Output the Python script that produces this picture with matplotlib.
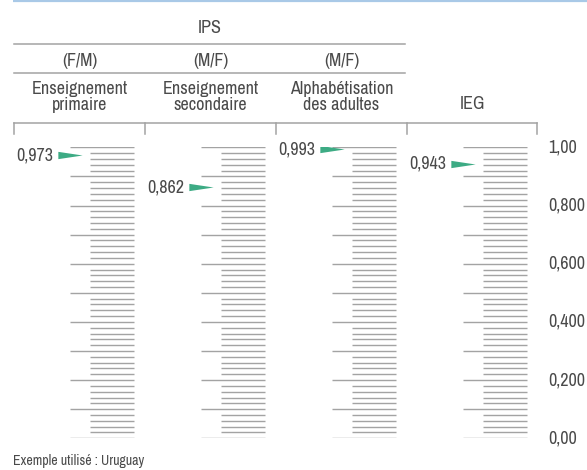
import numpy as np
import matplotlib.pyplot as plt
from matplotlib.path import Path

# data
groups = ['(F/M)', '(M/F)', '(M/F)']
columns = ['Enseignement\nprimaire', 'Enseignement\nsecondaire',
           'Alphabétisation\ndes adultes', 'IEG']
values = [0.973, 0.862, 0.993, 0.943]
scale_labels = ['1,00', '0,800', '0,600', '0,400', '0,200', '0,00']
scale_values = [1.0, 0.8, 0.6, 0.4, 0.2, 0.0]
note = 'Exemple utilisé : Uruguay'

W, H = 587, 470
TEXT = '#4a4a4a'
GREY = '#a3a3a3'
GREEN = '#3dab84'
FS = 13
plt.rcParams['font.family'] = ['Archivo Narrow', 'DejaVu Sans']

fig = plt.figure(figsize=(W/100, H/100), dpi=100)

# background axes in pixel units for the header
bg = fig.add_axes([0, 0, 1, 1])
bg.set_xlim(0, W)
bg.set_ylim(H, 0)
bg.axis('off')

bg.plot([13, W], [0.8, 0.8], color='#a9c9e7', lw=1.6, solid_capstyle='butt')
bg.text(210, 28, 'IPS', ha='center', va='center', fontsize=FS, color=TEXT)
bg.plot([14, 405], [44, 44], color=GREY, lw=1.1)
bg.plot([14, 405], [73, 73], color=GREY, lw=1.1)

col_left = [14 + 131*i for i in range(4)]
for i, g in enumerate(groups):
    bg.text(col_left[i] + 65.5, 61, g, ha='center', va='center',
            fontsize=FS, color=TEXT)
for i, c in enumerate(columns):
    y = 97 if '\n' in c else 104
    bg.text(col_left[i] + 65.5, y, c, ha='center', va='center', fontsize=FS,
            color=TEXT, linespacing=0.95)

# bracket
bg.plot([14, 537], [123, 123], color=GREY, lw=1.1)
for x in col_left + [537]:
    bg.plot([x, x], [123, 134], color=GREY, lw=1.1)

bg.text(13, 461, note, ha='left', va='center', fontsize=10, color=TEXT)

# scale axes: value 1 at y=147.3 px, value 0 at y=438.3 px
top, bot = 147.3, 438.3
ax = fig.add_axes([0, (H - bot)/H, 1, (bot - top)/H])
ax.set_xlim(0, W)
ax.set_ylim(0, 1)
ax.axis('off')

major = np.linspace(0, 1, 11)
fine = np.linspace(0, 1, 51)
minor = np.array([v for v in fine if not np.isclose(v*10, round(v*10))])

tri = Path([(-1, -0.3), (1, 0), (-1, 0.3), (-1, -0.3)],
           [Path.MOVETO, Path.LINETO, Path.LINETO, Path.CLOSEPOLY])

for i, v in enumerate(values):
    right = 134 + 131*i
    ax.hlines(major, right - 64, right, color=GREY, lw=1.0)
    ax.hlines(minor, right - 44, right, color=GREY, lw=1.0)
    tip = right - 52
    ax.plot([tip - 12], [v], marker=tri, ms=17.5, color=GREEN,
            markeredgewidth=0, linestyle='')
    ax.text(tip - 29, v, f'{v:.3f}'.replace('.', ','), ha='right',
            va='center', fontsize=FS, color=TEXT)

for lab, v in zip(scale_labels, scale_values):
    ax.text(548, v, lab, ha='left', va='center', fontsize=FS, color=TEXT)

fig.savefig('out.png', dpi=100)
